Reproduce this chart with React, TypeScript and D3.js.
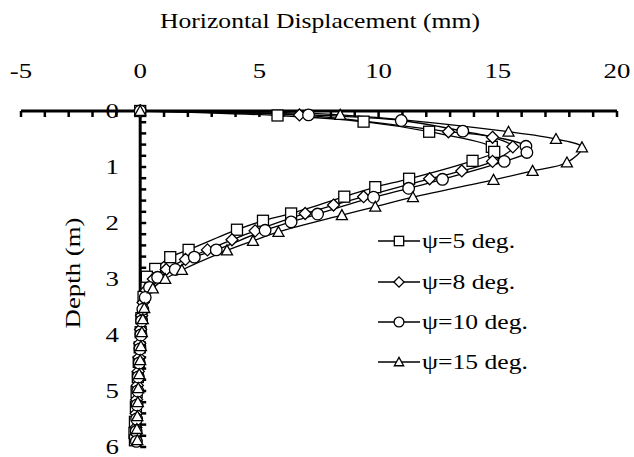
import React from "react";
import * as d3 from "d3";

type Pt = [number, number]; // [displacement mm, depth m]

const seriesLabels = ["ψ=5 deg.", "ψ=8 deg.", "ψ=10 deg.", "ψ=15 deg."];
const seriesSymbols = ["square", "diamond", "circle", "triangle"];

const psi5: Pt[] = [
  [0, 0], [5.76, 0.08], [9.37, 0.19], [12.12, 0.37], [14.75, 0.64], [14.85, 0.73],
  [13.94, 0.89], [11.28, 1.21], [9.86, 1.36], [8.56, 1.53], [6.33, 1.83], [5.15, 1.96],
  [4.06, 2.12], [2.03, 2.48], [1.26, 2.61], [0.63, 2.82], [0.28, 2.96], [0.14, 3.32],
  [0.05, 3.7], [0.02, 3.95], [-0.02, 4.22], [-0.06, 4.48], [-0.1, 4.75], [-0.15, 5.02],
  [-0.18, 5.28], [-0.22, 5.55], [-0.24, 5.75], [-0.22, 5.88],
];
const psi8: Pt[] = [
  [0, 0], [6.68, 0.07], [12.93, 0.37], [14.78, 0.47], [15.63, 0.64], [14.78, 0.9],
  [13.49, 1.07], [12.14, 1.21], [9.37, 1.53], [8.11, 1.68], [6.92, 1.83], [4.82, 2.14],
  [3.85, 2.3], [2.82, 2.48], [1.9, 2.65], [1.09, 2.83], [0.55, 3.0], [0.25, 3.2],
  [0.12, 3.42], [0.06, 3.65], [0.02, 3.9], [-0.02, 4.15], [-0.05, 4.4], [-0.08, 4.65],
  [-0.12, 4.9], [-0.15, 5.15], [-0.17, 5.4], [-0.18, 5.65], [-0.18, 5.88],
];
const psi10: Pt[] = [
  [0, 0], [7.06, 0.07], [10.95, 0.17], [13.53, 0.36], [16.18, 0.63], [16.22, 0.74],
  [15.27, 0.9], [12.68, 1.22], [11.26, 1.38], [9.79, 1.54], [7.44, 1.84], [6.33, 1.98],
  [5.24, 2.13], [3.19, 2.48], [2.27, 2.61], [1.47, 2.83], [0.73, 2.97], [0.39, 3.15],
  [0.21, 3.33], [0.11, 3.54], [0.06, 3.75], [0.03, 4.0], [-0.01, 4.25], [-0.04, 4.5],
  [-0.08, 4.75], [-0.1, 5.0], [-0.13, 5.25], [-0.15, 5.5], [-0.17, 5.72], [-0.16, 5.9],
];
const psi15: Pt[] = [
  [0, 0], [8.39, 0.07], [15.45, 0.37], [17.44, 0.5], [18.53, 0.65], [17.9, 0.92],
  [16.46, 1.07], [14.82, 1.23], [11.44, 1.54], [9.86, 1.71], [8.46, 1.86], [5.8, 2.16],
  [4.73, 2.32], [3.64, 2.49], [1.75, 2.84], [1.05, 3.0], [0.53, 3.17], [0.17, 3.52],
  [0.11, 3.72], [0.07, 3.95], [0.03, 4.2], [0.0, 4.45], [-0.04, 4.7], [-0.08, 4.95],
  [-0.1, 5.2], [-0.12, 5.45], [-0.14, 5.68], [-0.12, 5.88],
];
const seriesData = [psi5, psi8, psi10, psi15];

const xTickValues = [-5, 0, 5, 10, 15, 20];
const yTickValues = [0, 1, 2, 3, 4, 5, 6];

const W = 634;
const H = 457;
const FONT = "'Liberation Serif', 'Times New Roman', serif";
const STRETCH = 1.22; // lettering is set wide

const x = d3.scaleLinear().domain([-5, 20]).range([21, 617]);
const y = d3.scaleLinear().domain([0, 6]).range([111, 447]);

function Label({
  tx, ty, size, anchor = "start", rotate = 0, dy = "0", children,
}: {
  tx: number; ty: number; size: number; anchor?: string; rotate?: number; dy?: string;
  children: React.ReactNode;
}) {
  return (
    <text
      transform={`translate(${tx},${ty}) rotate(${rotate}) scale(${STRETCH},1)`}
      textAnchor={anchor as any}
      dy={dy}
      fontFamily={FONT}
      fontSize={size}
      fill="#000"
    >
      {children}
    </text>
  );
}

function Marker({ kind, cx, cy, s = 1 }: { kind: string; cx: number; cy: number; s?: number }) {
  const common = { fill: "#fff", stroke: "#000", strokeWidth: 1.3 };
  if (kind === "square") {
    const h = 5.5 * s;
    return <rect x={cx - h} y={cy - h} width={2 * h} height={2 * h} {...common} />;
  }
  if (kind === "circle") {
    return <circle cx={cx} cy={cy} r={5.8 * s} {...common} />;
  }
  if (kind === "diamond") {
    const h = 6 * s;
    return (
      <path d={`M${cx},${cy - h}L${cx + h},${cy}L${cx},${cy + h}L${cx - h},${cy}Z`} {...common} />
    );
  }
  const h = 5.5 * s;
  return (
    <path
      d={`M${cx},${cy - h}L${cx + h},${cy + h * 0.8}L${cx - h},${cy + h * 0.8}Z`}
      {...common}
    />
  );
}

export default function App() {
  const line = d3
    .line<Pt>()
    .x((d) => x(d[0]))
    .y((d) => y(d[1]))
    .curve(d3.curveCatmullRom.alpha(0.5));

  const xMinor = d3.range(-5, 21, 1);
  const yMinor = d3.range(0, 6.001, 0.2);
  const legendY = [241, 282, 322, 362];

  return (
    <svg width={W} height={H} style={{ position: "absolute", left: 0, top: 0, background: "#fff" }}>
      <rect width={W} height={H} fill="#fff" />
      <Label tx={320} ty={28} size={21} anchor="middle">
        Horizontal Displacement  (mm)
      </Label>

      {xTickValues.map((v) => (
        <Label key={v} tx={x(v)} ty={78} size={22} anchor="middle">
          {v}
        </Label>
      ))}
      {yTickValues.map((v) => (
        <Label key={v} tx={119} ty={y(v)} size={22} anchor="end" dy="0.32em">
          {v}
        </Label>
      ))}
      <Label tx={80} ty={273} size={22} anchor="middle" rotate={-90}>
        Depth (m)
      </Label>

      {/* axes */}
      {xMinor.map((v) => (
        <line key={`xt${v}`} x1={x(v)} x2={x(v)} y1={y(0)} y2={y(0) + 6} stroke="#000" strokeWidth={2.5} />
      ))}
      {yMinor.map((v, i) => (
        <line key={`yt${i}`} x1={x(0)} x2={x(0) + 6} y1={y(v)} y2={y(v)} stroke="#000" strokeWidth={2.5} />
      ))}
      <line x1={x(-5)} x2={x(20)} y1={y(0)} y2={y(0)} stroke="#000" strokeWidth={3} />
      <line x1={x(0)} x2={x(0)} y1={y(0)} y2={y(6)} stroke="#000" strokeWidth={3} />

      {/* series */}
      {seriesData.map((data, i) => (
        <path key={`l${i}`} d={line(data) || ""} fill="none" stroke="#000" strokeWidth={1.3} />
      ))}
      {seriesData.map((data, i) => (
        <g key={`m${i}`}>
          {data.map((d, j) => (
            <Marker key={j} kind={seriesSymbols[i]} cx={x(d[0])} cy={y(d[1])} />
          ))}
        </g>
      ))}

      {/* legend */}
      {seriesLabels.map((lab, i) => (
        <g key={lab}>
          <line x1={378} x2={420} y1={legendY[i]} y2={legendY[i]} stroke="#000" strokeWidth={1.3} />
          <Marker kind={seriesSymbols[i]} cx={399} cy={legendY[i]} s={0.85} />
          <Label tx={422} ty={legendY[i]} size={21} dy="0.33em">
            {lab}
          </Label>
        </g>
      ))}
    </svg>
  );
}
